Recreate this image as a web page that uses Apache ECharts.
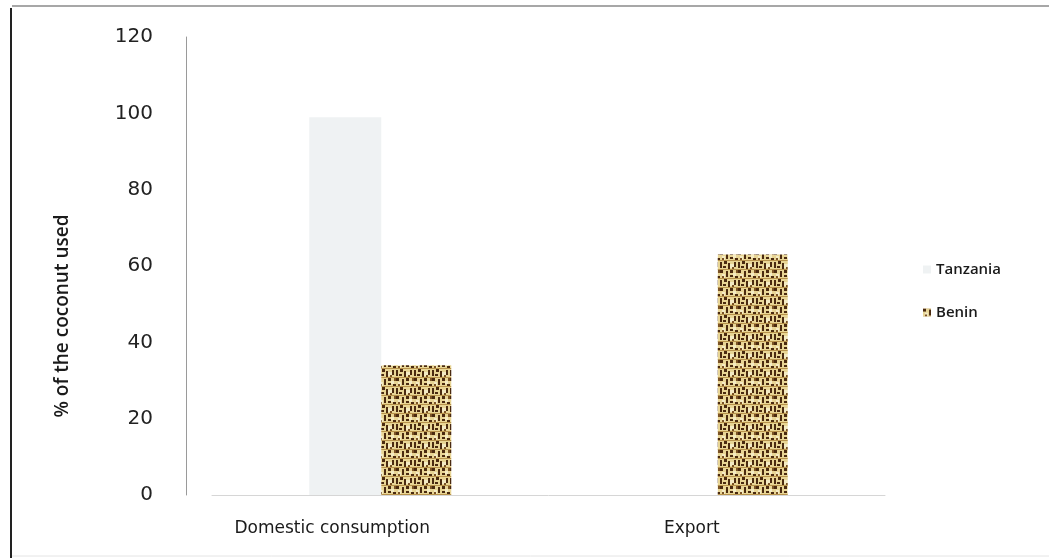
<!DOCTYPE html>
<html>
<head>
<meta charset="utf-8">
<script src="https://cdn.jsdelivr.net/npm/echarts@6/dist/echarts.min.js"></script>
<style>
  html, body { margin: 0; padding: 0; background: #ffffff; }
  #chart { width: 1049px; height: 558px; }
</style>
</head>
<body>
<div id="chart"></div>
<script>
// Coconut use by destination, percent
const categories = ['Domestic consumption', 'Export'];
const seriesNames = ['Tanzania', 'Benin'];
const tanzania = [99, 0];
const benin = [34, 63];
const yTicks = [0, 20, 40, 60, 80, 100, 120];

// Coarse burlap-like weave for the Benin bars
function makeWeave() {
  const c = document.createElement('canvas');
  c.width = 18; c.height = 18;
  const g = c.getContext('2d');
  g.fillStyle = '#e8d595';
  g.fillRect(0, 0, 18, 18);
  g.fillStyle = '#f4ebc4';
  g.fillRect(2, 4, 3, 4);
  g.fillRect(10, 12, 4, 4);
  g.fillRect(13, 3, 3, 3);
  g.fillStyle = '#b8934c';
  g.fillRect(0, 8, 18, 1);
  g.fillRect(0, 17, 18, 1);
  g.fillStyle = '#4a2a10';
  g.fillRect(0, 0, 3, 3);
  g.fillRect(6, 1, 2, 6);
  g.fillRect(10, 0, 3, 3);
  g.fillRect(15, 6, 3, 2);
  g.fillRect(0, 10, 2, 6);
  g.fillRect(4, 9, 3, 3);
  g.fillRect(8, 11, 2, 6);
  g.fillRect(14, 10, 2, 5);
  g.fillRect(10, 5, 3, 2);
  g.fillRect(3, 14, 3, 2);
  g.fillStyle = '#7b5326';
  g.fillRect(2, 6, 2, 2);
  g.fillRect(12, 15, 2, 2);
  g.fillRect(16, 0, 2, 3);
  return c;
}
const weave = { image: makeWeave(), repeat: 'repeat' };

const chart = echarts.init(document.getElementById('chart'));
chart.setOption({
  animation: false,
  backgroundColor: '#ffffff',
  graphic: [
    { type: 'line', shape: { x1: 11, y1: 8, x2: 11, y2: 558 }, style: { stroke: '#222', lineWidth: 2 } },
    { type: 'line', shape: { x1: 12, y1: 6, x2: 1049, y2: 6 }, style: { stroke: '#8a8a8a', lineWidth: 1.5 } },
    { type: 'line', shape: { x1: 12, y1: 556, x2: 1049, y2: 556 }, style: { stroke: '#e4e4e4', lineWidth: 1 } }
  ],
  grid: { left: 212, right: 164, top: 37, bottom: 63, containLabel: false },
  legend: {
    orient: 'vertical',
    left: 918,
    top: 257,
    itemWidth: 8,
    itemHeight: 8,
    itemGap: 28,
    icon: 'rect',
    data: seriesNames,
    textStyle: { fontFamily: 'Open Sans', fontWeight: 600, fontSize: 15, color: '#1a1a1a' }
  },
  xAxis: {
    type: 'category',
    data: categories,
    axisLine: { show: true, lineStyle: { color: '#d6d6d6', width: 1 } },
    axisTick: { show: false },
    axisLabel: {
      margin: 25,
      interval: 0,
      formatter: function (v, i) { return i === 0 ? '{a|' + v + '}' : '{b|' + v + '}'; },
      rich: {
        a: { fontFamily: 'DejaVu Sans', fontSize: 17, color: '#1a1a1a', padding: [0, 96, 0, 0] },
        b: { fontFamily: 'DejaVu Sans', fontSize: 17, color: '#1a1a1a', padding: [0, 50, 0, 0] }
      }
    }
  },
  yAxis: {
    type: 'value',
    min: yTicks[0],
    max: yTicks[yTicks.length - 1],
    interval: 20,
    offset: 26,
    name: '% of the coconut used',
    nameLocation: 'middle',
    nameGap: 114,
    nameTextStyle: { fontFamily: 'Open Sans', fontWeight: 600, fontSize: 19, color: '#1a1a1a', padding: [0, 100, 0, 0] },
    axisLine: { show: true, lineStyle: { color: '#9a9a9a', width: 1 } },
    axisTick: { show: false },
    splitLine: { show: false },
    axisLabel: { margin: 33, fontFamily: 'DejaVu Sans', fontSize: 20, color: '#222' }
  },
  series: [
    {
      name: seriesNames[0],
      type: 'bar',
      data: tanzania,
      barWidth: 72,
      barGap: '0%',
      itemStyle: { color: '#eff2f3' }
    },
    {
      name: seriesNames[1],
      type: 'bar',
      data: benin,
      barWidth: 70,
      barGap: '0%',
      itemStyle: { color: weave }
    }
  ]
});
</script>
</body>
</html>
